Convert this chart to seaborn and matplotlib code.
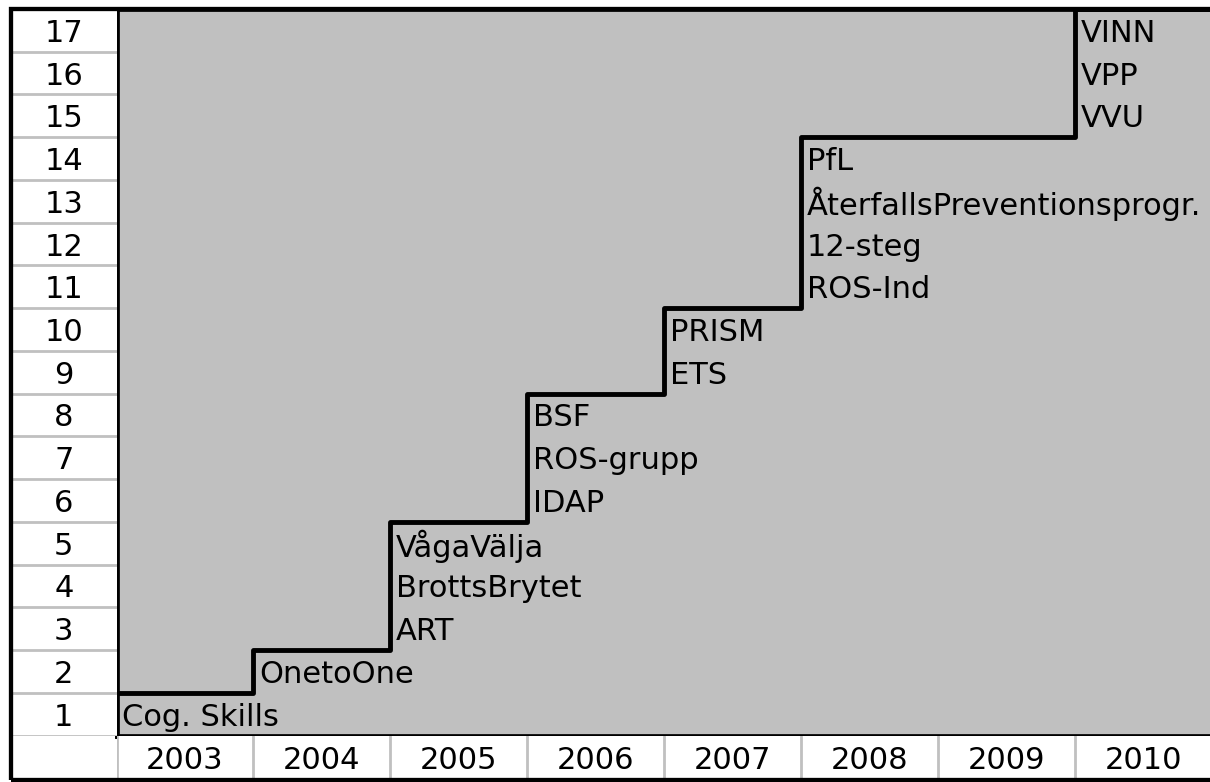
import matplotlib
matplotlib.use("Agg")
import matplotlib.pyplot as plt
from matplotlib.patches import Rectangle
import seaborn as sns

# data: programmes introduced each year
years = ["2003", "2004", "2005", "2006", "2007", "2008", "2009", "2010"]
programs = [
    ["Cog. Skills"],
    ["OnetoOne"],
    ["ART", "BrottsBrytet", "VågaVälja"],
    ["IDAP", "ROS-grupp", "BSF"],
    ["ETS", "PRISM"],
    ["ROS-Ind", "12-steg", "ÅterfallsPreventionsprogr.", "PfL"],
    [],
    ["VVU", "VPP", "VINN"],
]
row_labels = [str(i) for i in range(1, 18)]

# cumulative count per year -> step line
cum = []
total = 0
for p in programs:
    total += len(p)
    cum.append(total)
step_x = list(range(len(years) + 1))
step_y = cum + [cum[-1]]

sns.set_style("white")
plt.rcParams['font.family'] = ['DejaVu Sans']
FS = 22
GRID = '#c0c0c0'

W, H = 1210, 782
fig = plt.figure(figsize=(W / 100, H / 100), dpi=100)


def frac(x0, y0, x1, y1):
    return [x0 / W, 1 - y1 / H, (x1 - x0) / W, (y1 - y0) / H]


ax = fig.add_axes(frac(116.5, 9, 1212, 735.5))
axl = fig.add_axes(frac(11, 9, 116.5, 735.5), sharey=ax)
axb = fig.add_axes(frac(116.5, 735.5, 1212, 779.5), sharex=ax)

# main area
ax.set_facecolor('#c0c0c0')
sns.lineplot(x=step_x, y=step_y, ax=ax, drawstyle='steps-post',
             color='black', linewidth=3.5, zorder=5)
ax.set_xlim(0, len(years))
ax.set_ylim(0, len(row_labels))
for col, plist in enumerate(programs):
    start = cum[col] - len(plist)
    for k, name in enumerate(plist):
        ax.text(col + 0.04, start + k + 0.5, name, fontsize=FS,
                ha='left', va='center_baseline', color='black', zorder=6)
for s in ['left', 'bottom', 'top']:
    ax.spines[s].set_linewidth(3.4)
    ax.spines[s].set_color('black')
ax.spines['right'].set_visible(False)
ax.set_xticks([])
ax.set_yticks([])
ax.set_xlabel("")
ax.set_ylabel("")

# left column with row numbers
axl.set_facecolor('white')
axl.set_xlim(0, 1)
for i in range(len(row_labels)):
    axl.axhline(i, color=GRID, linewidth=2, zorder=1)
    axl.text(0.5, i + 0.5, row_labels[i], fontsize=FS, ha='center',
             va='center_baseline', color='black')
for s in axl.spines.values():
    s.set_visible(False)
axl.tick_params(left=False, bottom=False, labelleft=False, labelbottom=False)

# bottom row with years
axb.set_facecolor('white')
axb.set_ylim(0, 1)
for i, y in enumerate(years):
    axb.axvline(i, color=GRID, linewidth=2, zorder=1)
    axb.text(i + 0.5, 0.5, y, fontsize=FS, ha='center',
             va='center_baseline', color='black')
for s in axb.spines.values():
    s.set_visible(False)
axb.tick_params(left=False, bottom=False, labelleft=False, labelbottom=False)

# outer frame
fig.add_artist(Rectangle((11 / W, 1 - 779.5 / H), 1.2, (779.5 - 9) / H,
                         transform=fig.transFigure, fill=False,
                         edgecolor='black', linewidth=3.1, zorder=10))

fig.savefig("out.png", dpi=100)
